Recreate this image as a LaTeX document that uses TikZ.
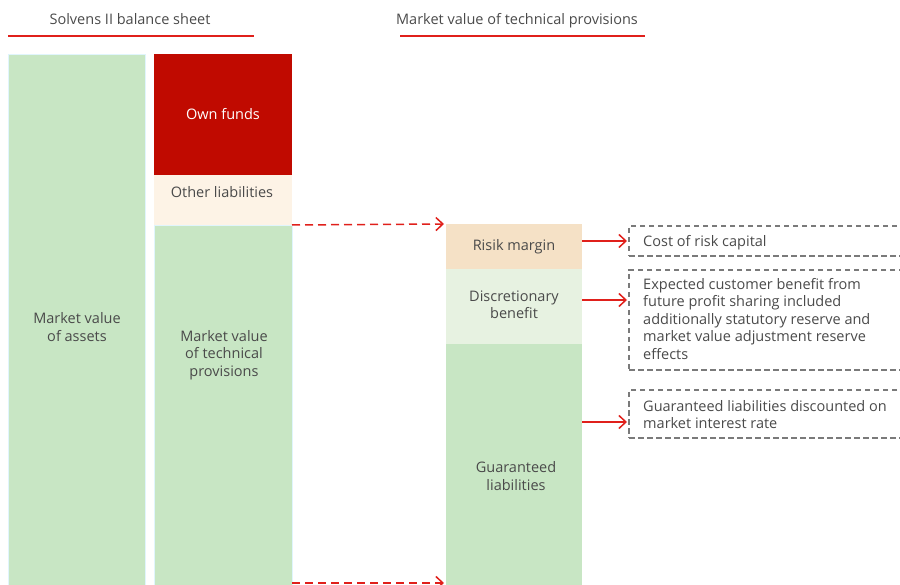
\documentclass[tikz,border=0pt]{standalone}
\usepackage{fontspec}
\setmainfont{Open Sans}
\usetikzlibrary{arrows.meta}

\definecolor{lineRed}{HTML}{E0201B}
\definecolor{ownRed}{HTML}{C00A00}
\definecolor{assetGreen}{HTML}{C8E6C4}
\definecolor{otherCream}{HTML}{FDF3E6}
\definecolor{marginTan}{HTML}{F5E1C6}
\definecolor{discGreen}{HTML}{E7F2E1}
\definecolor{txtGray}{HTML}{4A4A4A}
\definecolor{noteGray}{HTML}{7A7A7A}

\tikzset{
  block/.style={inner sep=0pt, outer sep=0pt, draw=none},
  lbl/.style={text=txtGray, align=center, font=\fontsize{14.5}{17.5}\selectfont},
  note/.style={draw=noteGray, line width=1.1pt, dash pattern=on 5.5pt off 3.5pt, inner sep=0pt, outer sep=0pt},
  notetxt/.style={text=txtGray, align=left, anchor=north west, inner sep=0pt,
    font=\fontsize{14.5}{17.5}\selectfont},
  link/.style={draw=lineRed, line width=1.5pt, -{Straight Barb[length=7pt,width=13pt,line width=1.5pt]}},
  dlink/.style={link, dash pattern=on 8pt off 5pt}
}

\begin{document}
\begin{tikzpicture}[x=1pt, y=-1pt]
	\useasboundingbox (0,0) rectangle (900,585);
	
	% titles
	\node[lbl, anchor=base] (T1) at (130, 25) {Solvens II balance sheet};
	\node[lbl, anchor=base] (T2) at (517, 25) {Market value of technical provisions};
	\draw[lineRed, line width=2.5pt] (8, 36) -- (254, 36);
	\draw[lineRed, line width=2.5pt] (400, 36) -- (645, 36);
	
	% balance sheet
	\node[block, fill=assetGreen, draw=cyan!12, minimum width=137pt, minimum height=533pt] (assets) at (76.5, 320.5) {};
	\node[block, fill=ownRed, minimum width=138pt, minimum height=121pt] (own) at (223, 114.5) {};
	\node[block, fill=otherCream, minimum width=138pt, minimum height=50pt] (other) at (223, 200) {};
	\node[block, fill=assetGreen, draw=cyan!12, minimum width=138pt, minimum height=362pt] (tp) at (223, 406) {};
	
	\node[lbl] (P1) at (77, 327) {Market value\\of assets};
	\node[lbl, text=white] (P2) at (223, 114) {Own funds};
	\node[lbl] (P3) at (222, 192) {Other liabilities};
	\node[lbl] (P4) at (224, 355) {Market value\\of technical\\provisions};
	
	% technical provisions
	\node[block, fill=marginTan, minimum width=136pt, minimum height=45pt] (rm) at (514, 246.5) {};
	\node[block, fill=discGreen, minimum width=136pt, minimum height=75pt] (disc) at (514, 306.5) {};
	\node[block, fill=assetGreen, minimum width=136pt, minimum height=243pt] (gl) at (514, 465.5) {};
	
	\node[lbl] (P5) at (514, 247) {Risik margin};
	\node[lbl] (P6) at (514, 305) {Discretionary\\benefit};
	\node[lbl] (P7) at (516, 476) {Guaranteed\\liabilities};
	
	% dashed arrows
	\coordinate (lowA) at (292, 583);
	\coordinate (lowB) at (444, 583);
	\draw[dlink] (tp.north east) -- ([xshift=-2pt]rm.north west);
	\draw[dlink] (lowA) -- (lowB);
	
	% explanations
	\node[note, minimum width=281pt, minimum height=30pt] (n1) at (769.5, 241) {};
	\node[note, minimum width=281pt, minimum height=100pt] (n2) at (769.5, 320) {};
	\node[note, minimum width=281pt, minimum height=48pt] (n3) at (769.5, 414) {};
	
	\node[notetxt] (Q1) at (643, 235) {Cost of risk capital};
	\node[notetxt] (Q2) at (643, 278) {Expected customer benefit from\\future profit sharing included\\additionally statutory reserve and\\market value adjustment reserve\\effects};
	\node[notetxt] (Q3) at (643, 400) {Guaranteed liabilities discounted on\\market interest rate};
	
	\coordinate (a2) at (627, 300);
	\coordinate (a3) at (627, 422);
	\draw[link] (rm.east |- n1.west) -- ([xshift=-2pt]n1.west);
	\draw[link] (disc.east |- a2) -- (a2);
	\draw[link] (gl.east |- a3) -- (a3);
\end{tikzpicture}
\end{document}
